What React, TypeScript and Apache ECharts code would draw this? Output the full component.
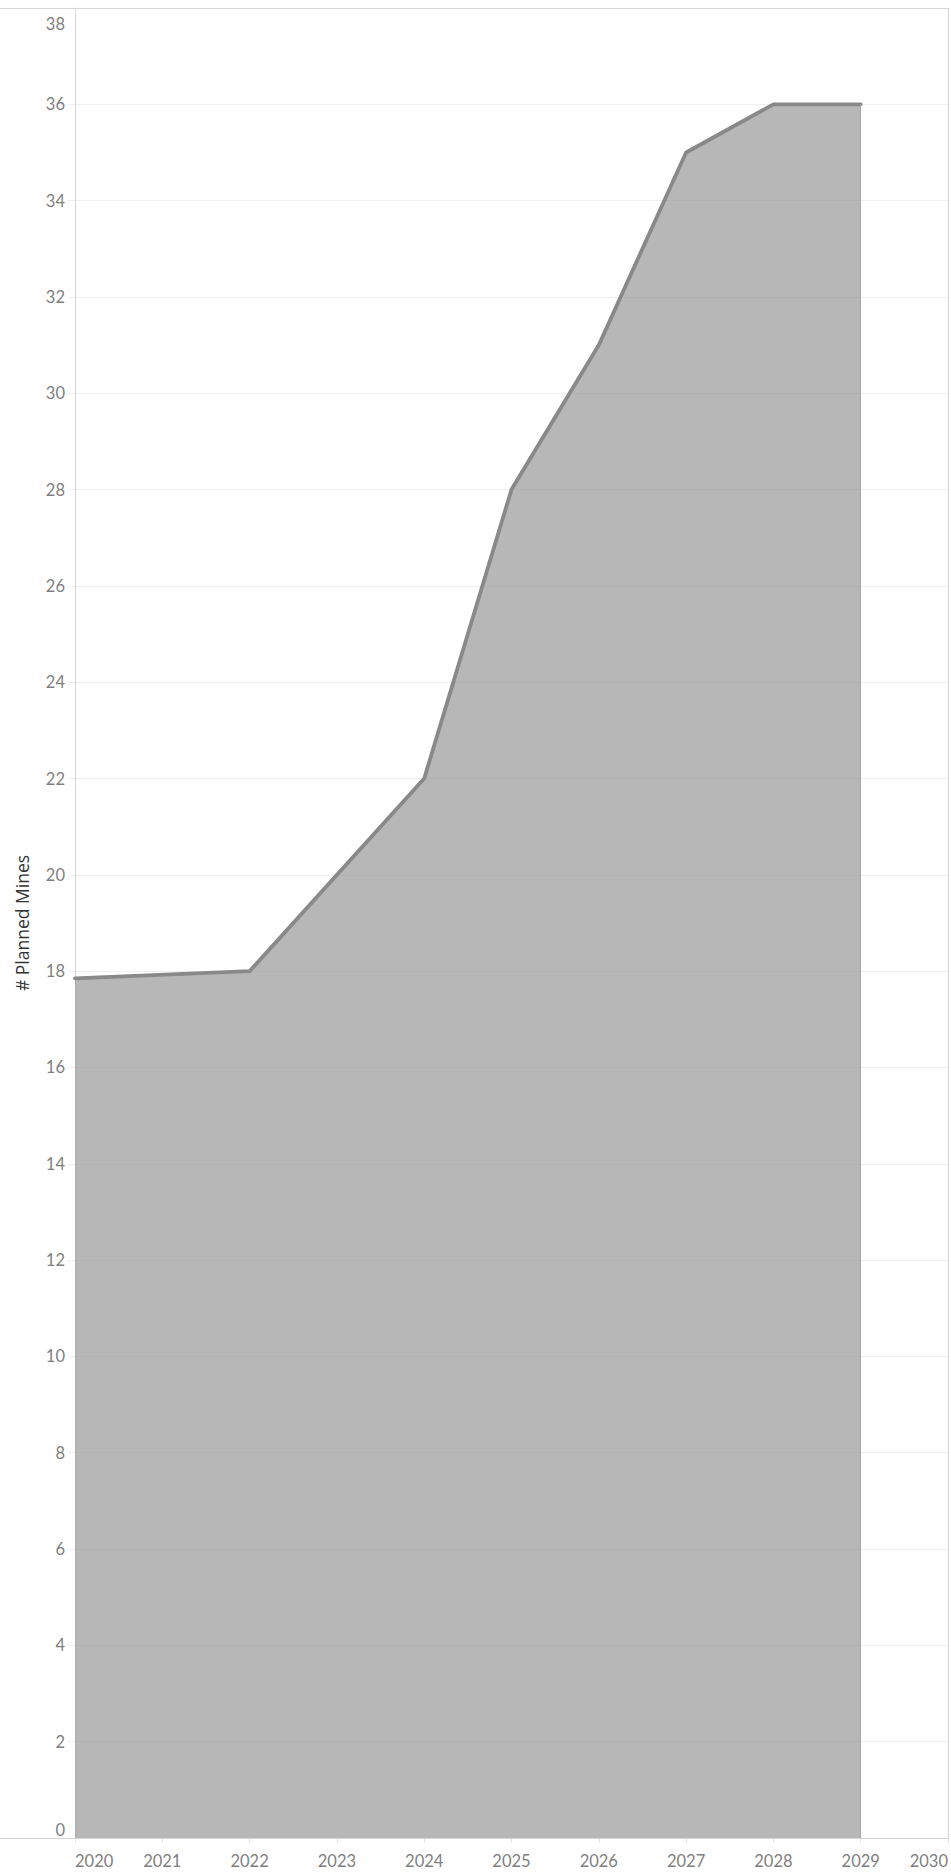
import React, { useEffect, useRef } from "react";
import * as echarts from "echarts";

// Data
const years = [2020, 2022, 2024, 2025, 2026, 2027, 2028, 2029];
const plannedMines = [17.85, 18, 22, 28, 31, 35, 36, 36];
const yearTicks = ["2020", "2021", "2022", "2023", "2024", "2025", "2026", "2027", "2028", "2029", "2030"];
const yTicks = [0, 2, 4, 6, 8, 10, 12, 14, 16, 18, 20, 22, 24, 26, 28, 30, 32, 34, 36, 38];
const axisTitle = "# Planned Mines";

const W = 951;
const H = 1875;
const FONT = "Lato, 'Open Sans', sans-serif";
const LABEL_COLOR = "#808080";
const LABEL_SIZE = 16.5;

export default function App() {
  const ref = useRef<HTMLDivElement>(null);

  useEffect(() => {
    if (!ref.current) return;
    const chart = echarts.init(ref.current, null, { renderer: "svg", width: W, height: H });
    const gridLeft = 75;
    const gridRight = 3;
    const gridTop = 8;
    const gridBottom = 37;
    const plotRight = W - gridRight;
    const plotBottom = H - gridBottom;
    const xMin = Number(yearTicks[0]);
    const xMax = Number(yearTicks[yearTicks.length - 1]);
    const yMax = yTicks[yTicks.length - 1];
    const lastYear = years[years.length - 1];
    const lastVal = plannedMines[plannedMines.length - 1];

    chart.setOption({
      animation: false,
      backgroundColor: "#ffffff",
      grid: { left: gridLeft, right: gridRight, top: gridTop, bottom: gridBottom, containLabel: false },
      xAxis: {
        type: "value",
        min: xMin,
        max: xMax,
        interval: 1,
        axisLine: { show: true, lineStyle: { color: "#d4d4d4", width: 1 } },
        axisTick: { show: true, length: 5, lineStyle: { color: "#e4e4e4" } },
        splitLine: { show: false },
        axisLabel: {
          formatter: (v: number) => yearTicks[Math.round(v - xMin)] ?? String(v),
          color: LABEL_COLOR,
          fontSize: LABEL_SIZE,
          fontFamily: FONT,
          margin: 14,
          alignMinLabel: "left",
          alignMaxLabel: "right",
        },
      },
      yAxis: {
        type: "value",
        min: yTicks[0],
        max: yMax,
        interval: yTicks[1] - yTicks[0],
        name: axisTitle,
        nameLocation: "middle",
        nameGap: 44,
        nameTextStyle: { color: "#333333", fontSize: 17.5, fontFamily: "'Open Sans', sans-serif" },
        axisLine: { show: true, lineStyle: { color: "#d4d4d4", width: 1 } },
        axisTick: { show: true, length: 7, lineStyle: { color: "#efefef" } },
        splitLine: { show: true, lineStyle: { color: "#efefef", width: 1 } },
        axisLabel: {
          color: LABEL_COLOR,
          fontSize: LABEL_SIZE,
          fontFamily: FONT,
          margin: 10,
          verticalAlignMaxLabel: "top",
          verticalAlignMinLabel: "bottom",
          formatter: (v: number) => (v === yMax ? `{mx|${v}}` : `${v}`),
          rich: {
            mx: {
              color: LABEL_COLOR,
              fontSize: LABEL_SIZE,
              fontFamily: FONT,
              padding: [7, 0, 0, 0],
            },
          },
        },
      },
      series: [
        {
          type: "line",
          data: years.map((y, i) => [y, plannedMines[i]]),
          symbol: "none",
          lineStyle: { color: "#898989", width: 3.8, cap: "round", join: "round" },
          areaStyle: { color: "#a0a0a0", opacity: 0.76 },
          z: 3,
          markLine: {
            silent: true,
            symbol: "none",
            label: { show: false },
            lineStyle: { color: "#a6a6a6", width: 1, type: "solid" },
            data: [[{ coord: [lastYear, 0] }, { coord: [lastYear, lastVal] }]],
          },
        },
      ],
      graphic: [
        {
          type: "line",
          shape: { x1: 0, y1: gridTop + 0.5, x2: plotRight + 0.5, y2: gridTop + 0.5 },
          style: { stroke: "#d4d4d4", lineWidth: 1 },
          silent: true,
          z: 10,
        },
        {
          type: "line",
          shape: { x1: 0, y1: plotBottom + 0.5, x2: plotRight + 0.5, y2: plotBottom + 0.5 },
          style: { stroke: "#d4d4d4", lineWidth: 1 },
          silent: true,
          z: 10,
        },
        {
          type: "line",
          shape: { x1: plotRight + 0.5, y1: gridTop, x2: plotRight + 0.5, y2: plotBottom + 0.5 },
          style: { stroke: "#d4d4d4", lineWidth: 1 },
          silent: true,
          z: 10,
        },
      ],
    });
    return () => chart.dispose();
  }, []);

  return (
    <div
      ref={ref}
      style={{ position: "absolute", left: 0, top: 0, width: W, height: H, background: "#fff" }}
    />
  );
}
